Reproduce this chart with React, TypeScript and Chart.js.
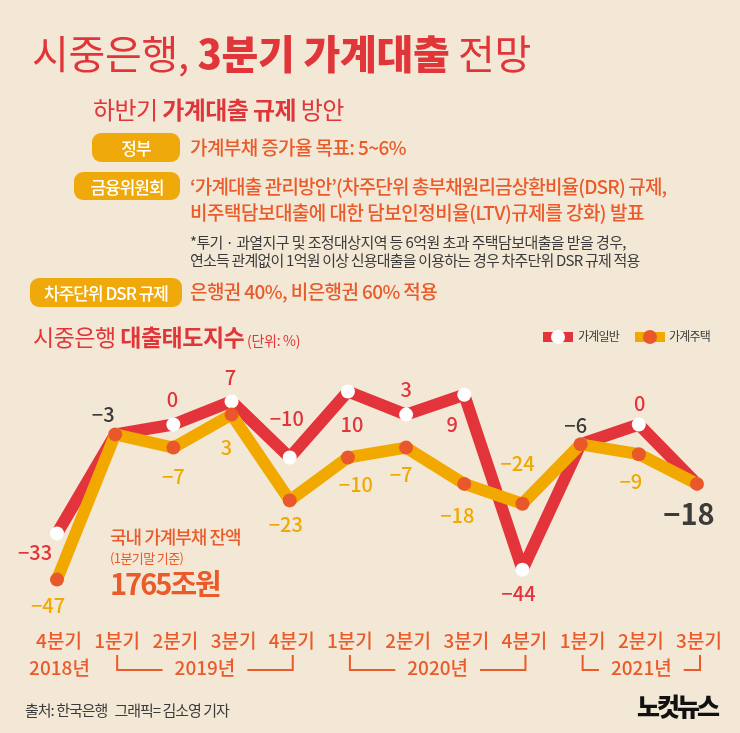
import React, { useEffect, useRef } from 'react';
import { Chart, registerables } from 'chart.js';

Chart.register(...registerables);

// ---------- data ----------
const quarters = ['4분기', '1분기', '2분기', '3분기', '4분기', '1분기', '2분기', '3분기', '4분기', '1분기', '2분기', '3분기'];
const yearLabels = ['2018년', '2019년', '2020년', '2021년'];
const yearFirstIdx = [0, 1, 5, 9];
const yearLastIdx = [0, 4, 8, 11];
const generalLoans = [-33, -3, 0, 7, -10, 10, 3, 9, -44, -6, 0, -18];
const housingLoans = [-47, -3, -7, 3, -23, -10, -7, -18, -24, -6, -9, -18];
const seriesNames = ['가계일반', '가계주택'];

// ---------- label placement (style) ----------
const generalLabelOffsets = [[-22, 19], [-12, -20], [-1, -25], [-1, -24], [-3, -39], [4, 33], [0, -25], [-12, 30], [-4, 24], [-5, -19], [1, -21], [-8, 30]];
const generalLabelTone = ['red', 'dark', 'red', 'red', 'red', 'red', 'red', 'red', 'red', 'dark', 'red', 'big'];
const housingLabelOffsets = [[-9, 26], null, [0, 29], [-5, 33], [-4, 24], [8, 27], [-5, 27], [-7, 32], [-5, -40], null, [-8, 27], null];

const FONT = '"Noto Sans CJK KR", "Noto Sans", sans-serif';
const RED = '#e2343a';
const YELLOW = '#f1a900';
const DOT = '#e9582a';
const ORANGE_TEXT = '#ea5b2b';
const BADGE = '#f0a90a';
const DARK = '#3b3b3b';
const BG = '#f3e8d5';

const fmt = (v: number) => (v < 0 ? '−' + Math.abs(v) : String(v));

const overlayPlugin = {
  id: 'overlay',
  afterDatasetsDraw(chart: any) {
    const ctx = chart.ctx;
    const xs = chart.scales.x;
    const ys = chart.scales.y;
    ctx.save();
    ctx.textAlign = 'center';
    ctx.textBaseline = 'middle';
    generalLoans.forEach((v, i) => {
      const [dx, dy] = generalLabelOffsets[i];
      const tone = generalLabelTone[i];
      ctx.font = tone === 'big' ? `700 29px ${FONT}` : `500 20px ${FONT}`;
      ctx.fillStyle = tone === 'red' ? RED : DARK;
      ctx.fillText(fmt(v), xs.getPixelForValue(i) + dx, ys.getPixelForValue(v) + dy);
    });
    housingLoans.forEach((v, i) => {
      const off = housingLabelOffsets[i];
      if (!off) return;
      ctx.font = `500 20px ${FONT}`;
      ctx.fillStyle = YELLOW;
      ctx.fillText(fmt(v), xs.getPixelForValue(i) + off[0], ys.getPixelForValue(v) + off[1]);
    });
    // category labels
    ctx.font = `500 19px ${FONT}`;
    ctx.fillStyle = ORANGE_TEXT;
    quarters.forEach((q, i) => {
      ctx.fillText(q, xs.getPixelForValue(i) + 2, 641);
    });
    // year brackets
    ctx.strokeStyle = ORANGE_TEXT;
    ctx.lineWidth = 2;
    yearLabels.forEach((yl, k) => {
      const xL = xs.getPixelForValue(yearFirstIdx[k]) + 2;
      const xR = xs.getPixelForValue(yearLastIdx[k]) + 3;
      const mid = (xL + xR) / 2;
      ctx.fillText(yl, mid, 668);
      if (yearFirstIdx[k] === yearLastIdx[k]) return;
      const w = ctx.measureText(yl).width;
      ctx.beginPath();
      ctx.moveTo(xL, 655);
      ctx.lineTo(xL, 670);
      ctx.lineTo(mid - w / 2 - 12, 670);
      ctx.moveTo(mid + w / 2 + 12, 670);
      ctx.lineTo(xR, 670);
      ctx.lineTo(xR, 655);
      ctx.stroke();
    });
    ctx.restore();
  },
};

function T(props: any) {
  const { x, y, size, color, weight = 400, ls = 0, children, style } = props;
  return (
    <div
      style={{
        position: 'absolute',
        left: x,
        top: y - 0.556 * size,
        fontSize: size,
        lineHeight: size + 'px',
        color,
        fontWeight: weight,
        letterSpacing: ls,
        whiteSpace: 'pre',
        fontFamily: FONT,
        ...style,
      }}
    >
      {children}
    </div>
  );
}

function Badge(props: any) {
  const { x, y, w, h, children, size = 17, ls = -1 } = props;
  return (
    <div
      style={{
        position: 'absolute',
        left: x,
        top: y,
        width: w,
        height: h,
        background: BADGE,
        borderRadius: 9,
        color: '#fff',
        display: 'flex',
        alignItems: 'center',
        justifyContent: 'center',
        fontFamily: FONT,
        fontSize: size,
        fontWeight: 500,
        letterSpacing: ls,
        whiteSpace: 'pre',
      }}
    >
      {children}
    </div>
  );
}

export default function App() {
  const ref = useRef<HTMLCanvasElement>(null);

  useEffect(() => {
    if (!ref.current) return;
    const chart = new Chart(ref.current, {
      type: 'line',
      data: {
        labels: quarters,
        datasets: [
          {
            label: seriesNames[0],
            data: generalLoans,
            borderColor: RED,
            borderWidth: 12,
            borderJoinStyle: 'round',
            pointRadius: 7,
            pointHoverRadius: 7,
            pointBackgroundColor: '#ffffff',
            pointBorderWidth: 0,
            tension: 0,
            clip: false,
            order: 2,
          },
          {
            label: seriesNames[1],
            data: housingLoans,
            borderColor: YELLOW,
            borderWidth: 12,
            borderJoinStyle: 'round',
            pointRadius: 7,
            pointHoverRadius: 7,
            pointBackgroundColor: DOT,
            pointBorderWidth: 0,
            tension: 0,
            clip: false,
            order: 1,
          },
        ],
      } as any,
      options: {
        responsive: false,
        animation: false,
        events: [],
        layout: { padding: { left: 57, right: 43, top: 375, bottom: 143.5 } },
        scales: {
          x: { display: false, offset: false },
          y: { display: false, min: -50, max: 15 },
        },
        plugins: { legend: { display: false }, tooltip: { enabled: false } },
      } as any,
      plugins: [overlayPlugin],
    });
    return () => chart.destroy();
  }, []);

  return (
    <div style={{ position: 'absolute', left: 0, top: 0, width: 740, height: 733, background: BG, overflow: 'hidden', fontFamily: FONT }}>
      <canvas ref={ref} width={740} height={733} style={{ position: 'absolute', left: 0, top: 0, width: 740, height: 733 }} />

      <T x={32} y={54} size={40} color="#e0363a" ls={-0.3}>
        <span style={{ fontWeight: 400 }}>시중은행, </span>
        <span style={{ fontWeight: 900 }}>3분기 가계대출</span>
        <span style={{ fontWeight: 400 }}> 전망</span>
      </T>

      <T x={93} y={110} size={24} color="#e0363a" ls={-0.6}>
        <span style={{ fontWeight: 400 }}>하반기 </span>
        <span style={{ fontWeight: 700 }}>가계대출 규제</span>
        <span style={{ fontWeight: 400 }}> 방안</span>
      </T>

      <Badge x={92} y={133} w={88} h={29}>정부</Badge>
      <T x={190} y={148} size={19} color={ORANGE_TEXT} weight={500} ls={-0.6}>가계부채 증가율 목표: 5~6%</T>

      <Badge x={74} y={172} w={106} h={28}>금융위원회</Badge>
      <T x={190} y={187} size={19} color={ORANGE_TEXT} weight={500} ls={-0.85}>‘가계대출 관리방안’(차주단위 총부채원리금상환비율(DSR) 규제,</T>
      <T x={190} y={213} size={19} color={ORANGE_TEXT} weight={500} ls={-0.5}>비주택담보대출에 대한 담보인정비율(LTV)규제를 강화) 발표</T>
      <T x={190} y={242} size={15} color={DARK} weight={400} ls={-0.6}>*투기 · 과열지구 및 조정대상지역 등 6억원 초과 주택담보대출을 받을 경우,</T>
      <T x={190} y={260} size={15} color={DARK} weight={400} ls={-0.8}>연소득 관계없이 1억원 이상 신용대출을 이용하는 경우 차주단위 DSR 규제 적용</T>

      <Badge x={30} y={278} w={152} h={29}>차주단위 DSR 규제</Badge>
      <T x={190} y={292} size={19} color={ORANGE_TEXT} weight={500} ls={-0.6}>은행권 40%, 비은행권 60% 적용</T>

      <T x={33} y={338} size={23} color="#e0363a" ls={-0.5}>
        <span style={{ fontWeight: 400 }}>시중은행 </span>
        <span style={{ fontWeight: 700 }}>대출태도지수</span>
        <span style={{ fontWeight: 400, fontSize: 14, letterSpacing: -0.3 }}> (단위: %)</span>
      </T>

      {/* legend */}
      <div style={{ position: 'absolute', left: 543, top: 332, width: 30, height: 10, background: RED }} />
      <div style={{ position: 'absolute', left: 551, top: 330, width: 14, height: 14, borderRadius: 7, background: '#fff' }} />
      <T x={578} y={337} size={12} color={DARK} ls={-0.8}>{seriesNames[0]}</T>
      <div style={{ position: 'absolute', left: 635, top: 332, width: 30, height: 10, background: YELLOW }} />
      <div style={{ position: 'absolute', left: 643, top: 330, width: 14, height: 14, borderRadius: 7, background: DOT }} />
      <T x={669} y={337} size={12} color={DARK} ls={-0.8}>{seriesNames[1]}</T>

      {/* annotation */}
      <T x={110} y={537} size={18} color={ORANGE_TEXT} weight={500} ls={-1}>국내 가계부채 잔액</T>
      <T x={110} y={558} size={13} color={ORANGE_TEXT} weight={400} ls={-0.6}>(1분기말 기준)</T>
      <T x={110} y={584} size={29} color={ORANGE_TEXT} weight={700} ls={-2}>1765조원</T>

      {/* footer */}
      <T x={25} y={710} size={15} color={DARK} weight={400} ls={-1}>{'출처: 한국은행   그래픽= 김소영 기자'}</T>
      <T x={637} y={707} size={25} color="#111" weight={900} ls={-3}>노컷뉴스</T>
    </div>
  );
}
